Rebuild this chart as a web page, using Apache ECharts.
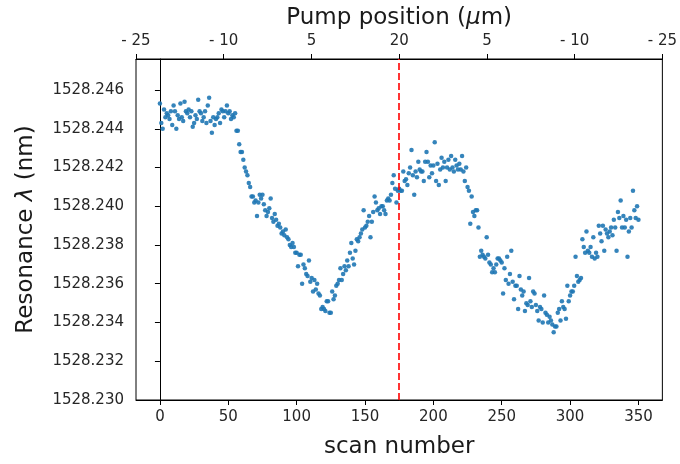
<!DOCTYPE html>
<html>
<head>
<meta charset="utf-8">
<script src="https://cdn.jsdelivr.net/npm/echarts@6/dist/echarts.min.js"></script>
<style>
html,body{margin:0;padding:0;background:#fff;}
#chart{width:680px;height:464px;}
</style>
</head>
<body>
<div id="chart"></div>
<script>
// Resonance wavelength (nm) for scan numbers 0..350
const resonance = [
1528.2453,1528.2443,1528.2440,1528.2450,1528.2446,1528.2448,1528.2447,1528.2445,1528.2449,1528.2442,
1528.2452,1528.2449,1528.2440,1528.2447,1528.2445,1528.2453,1528.2446,1528.2444,1528.2454,1528.2449,
1528.2448,1528.2450,1528.2446,1528.2449,1528.2441,1528.2443,1528.2447,1528.2445,1528.2455,1528.2449,
1528.2448,1528.2444,1528.2446,1528.2449,1528.2443,1528.2452,1528.2456,1528.2444,1528.2438,1528.2446,
1528.2442,1528.2445,1528.2446,1528.2448,1528.2443,1528.2450,1528.2449,1528.2446,1528.2449,1528.2452,
1528.2448,1528.2449,1528.2445,1528.2447,1528.2446,1528.2448,1528.2439,1528.2439,1528.2432,1528.2428,
1528.2428,1528.2424,1528.2420,1528.2418,1528.2416,1528.2412,1528.2410,1528.2405,1528.2405,1528.2402,
1528.2403,1528.2395,1528.2402,1528.2406,1528.2404,1528.2406,1528.2401,1528.2398,1528.2395,1528.2397,
1528.2399,1528.2404,1528.2394,1528.2392,1528.2396,1528.2393,1528.2390,1528.2391,1528.2389,1528.2386,
1528.2387,1528.2385,1528.2388,1528.2384,1528.2383,1528.2380,1528.2379,1528.2381,1528.2379,1528.2376,
1528.2376,1528.2369,1528.2375,1528.2375,1528.2360,1528.2370,1528.2368,1528.2365,1528.2364,1528.2372,
1528.2361,1528.2363,1528.2356,1528.2362,1528.2357,1528.2360,1528.2355,1528.2354,1528.2347,1528.2348,
1528.2347,1528.2346,1528.2351,1528.2351,1528.2345,1528.2345,1528.2356,1528.2352,1528.2354,1528.2359,
1528.2360,1528.2362,1528.2368,1528.2362,1528.2365,1528.2369,1528.2367,1528.2372,1528.2369,1528.2376,
1528.2381,1528.2373,1528.2370,1528.2377,1528.2383,1528.2382,1528.2384,1528.2386,1528.2388,1528.2398,
1528.2389,1528.2390,1528.2392,1528.2395,1528.2384,1528.2392,1528.2397,1528.2405,1528.2402,1528.2398,
1528.2399,1528.2396,1528.2400,1528.2400,1528.2398,1528.2396,1528.2403,1528.2404,1528.2403,1528.2406,
1528.2412,1528.2416,1528.2409,1528.2402,1528.2408,1528.2409,1528.2408,1528.2408,1528.2418,1528.2413,
1528.2414,1528.2411,1528.2417,1528.2420,1528.2429,1528.2416,1528.2406,1528.2418,1528.2415,1528.2423,
1528.2419,1528.2418,1528.2418,1528.2413,1528.2423,1528.2428,1528.2423,1528.2415,1528.2421,1528.2417,
1528.2421,1528.2433,1528.2413,1528.2422,1528.2411,1528.2419,1528.2425,1528.2420,1528.2423,1528.2413,
1528.2420,1528.2424,1528.2419,1528.2426,1528.2420,1528.2418,1528.2424,1528.2421,1528.2419,1528.2422,
1528.2419,1528.2426,1528.2418,1528.2413,1528.2420,1528.2410,1528.2408,1528.2391,1528.2405,1528.2397,
1528.2395,1528.2398,1528.2398,1528.2389,1528.2374,1528.2377,1528.2375,1528.2374,1528.2373,1528.2384,
1528.2375,1528.2371,1528.2370,1528.2366,1528.2368,1528.2366,1528.2370,1528.2373,1528.2373,1528.2372,
1528.2371,1528.2355,1528.2368,1528.2362,1528.2374,1528.2360,1528.2365,1528.2377,1528.2361,1528.2352,
1528.2359,1528.2359,1528.2347,1528.2364,1528.2357,1528.2354,1528.2356,1528.2346,1528.2350,1528.2349,
1528.2363,1528.2351,1528.2348,1528.2356,1528.2355,1528.2349,1528.2346,1528.2341,1528.2348,1528.2347,
1528.2340,1528.2354,1528.2345,1528.2344,1528.2340,1528.2343,1528.2341,1528.2339,1528.2335,1528.2338,
1528.2338,1528.2345,1528.2347,1528.2341,1528.2351,1528.2348,1528.2347,1528.2342,1528.2359,1528.2351,
1528.2354,1528.2356,1528.2356,1528.2359,1528.2374,1528.2364,1528.2361,1528.2362,1528.2363,1528.2383,
1528.2379,1528.2376,1528.2387,1528.2377,1528.2376,1528.2379,1528.2374,1528.2384,1528.2373,1528.2376,
1528.2374,1528.2390,1528.2386,1528.2382,1528.2390,1528.2377,1528.2388,1528.2386,1528.2384,1528.2387,
1528.2389,1528.2385,1528.2393,1528.2389,1528.2377,1528.2397,1528.2394,1528.2403,1528.2389,1528.2395,
1528.2389,1528.2393,1528.2374,1528.2387,1528.2394,1528.2389,1528.2408,1528.2398,1528.2394,1528.2400,
1528.2393
];
const scanNumbers = resonance.map((_, i) => i);
const xTicks = [0, 50, 100, 150, 200, 250, 300, 350];
const yTicks = [1528.230, 1528.232, 1528.234, 1528.236, 1528.238, 1528.240, 1528.242, 1528.244, 1528.246];
const topLabels = ['- 25', '- 10', '5', '20', '5', '- 10', '- 25'];
const pumpScan = 175;

const points = scanNumbers.map((n, i) => [n, resonance[i]]);
const FONT = 'DejaVu Sans';
const chart = echarts.init(document.getElementById('chart'), null, {renderer: 'canvas'});
chart.setOption({
  animation: false,
  backgroundColor: '#ffffff',
  grid: {left: 136, right: 13, top: 59, bottom: 58, show: true, borderColor: '#000', borderWidth: 1, containLabel: false},
  xAxis: [
    {
      type: 'value', position: 'bottom', min: -17.5, max: 367.5,
      name: 'scan number', nameLocation: 'middle', nameGap: 36,
      nameTextStyle: {fontFamily: FONT, fontSize: 23, color: '#1a1a1a'},
      axisLine: {show: true, lineStyle: {color: '#000', width: 1}},
      axisTick: {show: true, inside: false, length: 5, lineStyle: {color: '#000'}, customValues: xTicks},
      axisLabel: {show: true, margin: 10, fontFamily: FONT, fontSize: 15, color: '#262626', customValues: xTicks,
        formatter: v => String(v)},
      splitLine: {show: false}
    },
    {
      type: 'value', position: 'top', min: 0, max: 6, interval: 1,
      name: 'Pump position ({i|μ}m)', nameLocation: 'middle', nameGap: 27,
      nameTextStyle: {fontFamily: FONT, fontSize: 23, color: '#1a1a1a',
        rich: {i: {fontFamily: FONT, fontSize: 23, fontStyle: 'italic', color: '#1a1a1a'}}},
      axisLine: {show: true, lineStyle: {color: '#000', width: 1}},
      axisTick: {show: true, inside: false, length: 5, lineStyle: {color: '#000'}},
      axisLabel: {show: true, margin: 10, fontFamily: FONT, fontSize: 15, color: '#262626',
        showMinLabel: true, showMaxLabel: true,
        formatter: v => topLabels[Math.round(v)]},
      splitLine: {show: false}
    }
  ],
  yAxis: {
    type: 'value', min: 1528.230, max: 1528.2476,
    name: 'Resonance {i|λ} (nm)', nameLocation: 'middle', nameGap: 98,
    nameTextStyle: {fontFamily: FONT, fontSize: 23, color: '#1a1a1a',
      rich: {i: {fontFamily: FONT, fontSize: 23, fontStyle: 'italic', color: '#1a1a1a'}}},
    axisLine: {show: true, lineStyle: {color: '#000', width: 1}},
    axisTick: {show: true, inside: false, length: 5, lineStyle: {color: '#000'}, customValues: yTicks},
    axisLabel: {show: true, margin: 12, fontFamily: FONT, fontSize: 15, color: '#262626', customValues: yTicks,
      formatter: v => v.toFixed(3)},
    splitLine: {show: false}
  },
  series: [{
    type: 'scatter',
    xAxisIndex: 0,
    data: points,
    symbol: 'circle',
    symbolSize: 4.5,
    itemStyle: {color: '#1f77b4', opacity: 0.9},
    markLine: {
      silent: true,
      symbol: ['none', 'none'],
      label: {show: false},
      lineStyle: {color: '#ff0000', type: [7, 3], width: 2, opacity: 0.8},
      data: [{xAxis: pumpScan}]
    }
  }]
});
</script>
</body>
</html>
